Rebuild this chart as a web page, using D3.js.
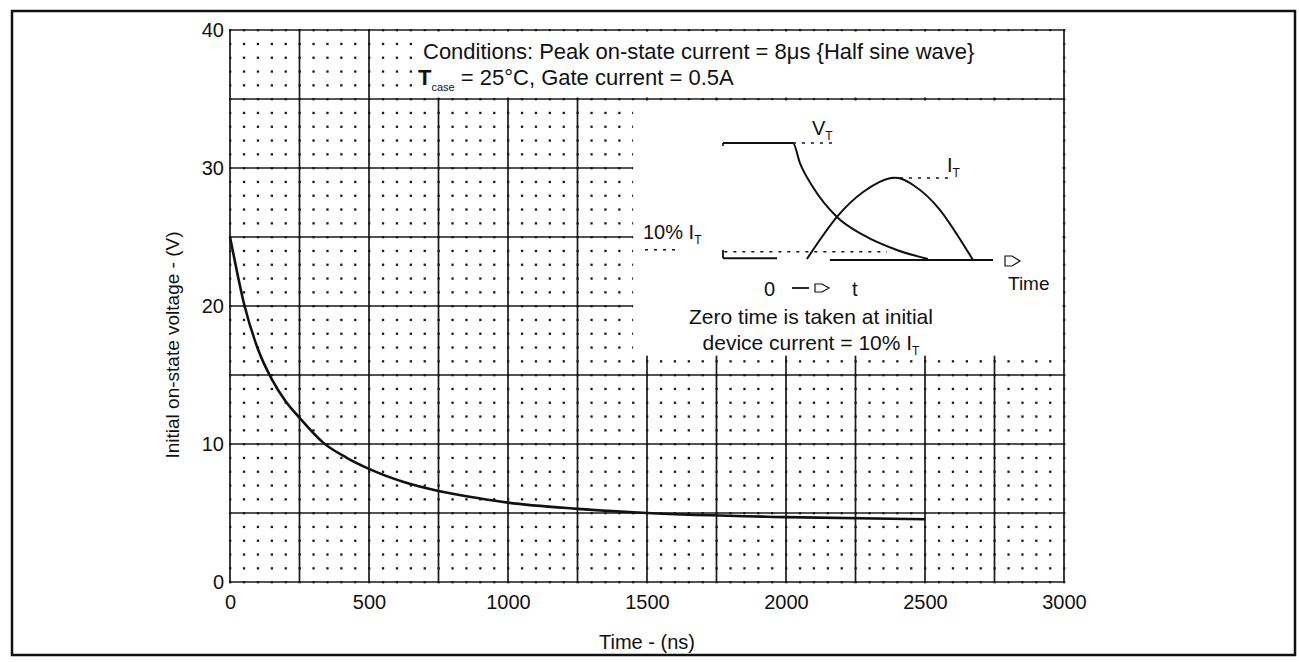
<!DOCTYPE html>
<html>
<head>
<meta charset="utf-8">
<script src="https://cdnjs.cloudflare.com/ajax/libs/d3/7.8.5/d3.min.js"></script>
<style>
body { margin: 0; background: #fff; }
text { font-family: "Liberation Sans", Arial, sans-serif; fill: #111; }
</style>
</head>
<body>
<div class="chart"></div>
<script>
/////////////
//Data
/////////////

// main curve
var timeNs  = [0, 25, 50, 100, 150, 200, 250, 335, 420, 500, 625, 750, 900, 1000, 1250, 1500, 2000, 2500];
var voltage = [25, 22.5, 20.2, 16.9, 14.7, 13.1, 11.9, 10.1, 9.0, 8.2, 7.25, 6.6, 6.05, 5.75, 5.3, 5.0, 4.7, 4.55];

var xTicks = [0, 500, 1000, 1500, 2000, 2500, 3000];
var yTicks = [0, 10, 20, 30, 40];

// inset sketch (arbitrary units: time 0-100, level 0-100)
var vtTime  = [0, 25.9, 28.5, 33.3, 42.2, 51.9, 64.4, 75.9];
var vtLevel = [100, 100, 82.9, 62.4, 36.8, 21.4, 8.5, 0.9];
var itTime  = [31.1, 42.2, 51.9, 62.2, 70.4, 80.4, 92.6];
var itLevel = [0.9, 36.8, 58.1, 70.1, 64.1, 42.7, 0];
var tenPct = 7;

////////////////
//Setup
////////////////
var w = 1299, h = 662;

var svg = d3.select('div.chart')
  .append('svg')
  .attr('width', w)
  .attr('height', h);

// outer frame
svg.append('rect')
  .attr('x', 12).attr('y', 11)
  .attr('width', 1283).attr('height', 644)
  .attr('fill', 'none')
  .attr('stroke', '#111')
  .attr('stroke-width', 2.5);

var x = d3.scaleLinear().domain([0, 3000]).range([230, 1064]);
var y = d3.scaleLinear().domain([0, 40]).range([582, 30]);

////////////////
//Grid
////////////////
var grid = svg.append('g');

// minor grid as dots at every 50ns / 1V crossing
var dots = [];
d3.range(0, 3001, 50).forEach(function(t) {
  d3.range(0, 41, 1).forEach(function(v) { dots.push([t, v]); });
});
grid.selectAll('rect.dot')
  .data(dots)
  .enter()
  .append('rect')
  .attr('class', 'dot')
  .attr('x', d => x(d[0]) - 1)
  .attr('y', d => y(d[1]) - 1)
  .attr('width', 2.3)
  .attr('height', 2.3)
  .attr('fill', '#1a1a1a');

// major grid every 250ns / 5V
grid.selectAll('line.vmaj')
  .data(d3.range(0, 3001, 250))
  .enter()
  .append('line')
  .attr('class', 'vmaj')
  .attr('x1', d => x(d)).attr('x2', d => x(d))
  .attr('y1', y(0)).attr('y2', y(40))
  .attr('stroke', '#1a1a1a')
  .attr('stroke-width', 1.7);

grid.selectAll('line.hmaj')
  .data(d3.range(0, 41, 5))
  .enter()
  .append('line')
  .attr('class', 'hmaj')
  .attr('x1', x(0)).attr('x2', x(3000))
  .attr('y1', d => y(d)).attr('y2', d => y(d))
  .attr('stroke', '#1a1a1a')
  .attr('stroke-width', 1.7);

// blank areas behind the notes and the inset
svg.append('rect')
  .attr('x', x(660)).attr('y', y(40) + 1.5)
  .attr('width', x(3000) - x(660) - 1.5)
  .attr('height', y(35) - y(40) - 3)
  .attr('fill', '#fff');

svg.append('rect')
  .attr('x', x(1450)).attr('y', y(35) + 1.5)
  .attr('width', x(3000) - x(1450) - 1.5)
  .attr('height', y(16.4) - y(35) - 1.5)
  .attr('fill', '#fff');

////////////////
//Axes (labels only)
////////////////
var xAxis = svg.append('g')
  .attr('transform', 'translate(0,' + (y(0) + 9) + ')')
  .call(d3.axisBottom(x).tickValues(xTicks).tickFormat(d3.format('d')).tickSize(0).tickPadding(4));
xAxis.select('.domain').remove();
xAxis.selectAll('text').attr('font-size', 20).style('font-family', '"Liberation Sans", Arial, sans-serif');

var yAxis = svg.append('g')
  .attr('transform', 'translate(' + (x(0) - 6) + ',0)')
  .call(d3.axisLeft(y).tickValues(yTicks).tickFormat(d3.format('d')).tickSize(0).tickPadding(0));
yAxis.select('.domain').remove();
yAxis.selectAll('text').attr('font-size', 20).style('font-family', '"Liberation Sans", Arial, sans-serif');

svg.append('text')
  .attr('x', x(1500)).attr('y', 649)
  .attr('text-anchor', 'middle')
  .attr('font-size', 20)
  .text('Time - (ns)');

svg.append('text')
  .attr('transform', 'translate(179,345) rotate(-90)')
  .attr('text-anchor', 'middle')
  .attr('font-size', 19)
  .text('Initial on-state voltage - (V)');

////////////////
//Curve
////////////////
var line = d3.line()
  .x(d => x(d[0]))
  .y(d => y(d[1]))
  .curve(d3.curveMonotoneX);

svg.append('path')
  .datum(d3.zip(timeNs, voltage))
  .attr('d', line)
  .attr('fill', 'none')
  .attr('stroke', '#111')
  .attr('stroke-width', 2.6);

////////////////
//Conditions note
////////////////
svg.append('text')
  .attr('x', 423).attr('y', 59)
  .attr('font-size', 22)
  .text('Conditions: Peak on-state current = 8\u03bcs {Half sine wave}');

var c2 = svg.append('text')
  .attr('x', 418).attr('y', 85)
  .attr('font-size', 22);
c2.append('tspan').attr('font-weight', 'bold').text('T');
c2.append('tspan').attr('font-size', 11).attr('dy', 6).text('case');
c2.append('tspan').attr('dy', -6).text(' = 25\u00b0C, Gate current = 0.5A');

////////////////
//Inset sketch
////////////////
var ix = d3.scaleLinear().domain([0, 100]).range([723, 993]);
var iy = d3.scaleLinear().domain([0, 100]).range([260, 143]);

var inset = svg.append('g');

var iline = d3.line()
  .x(d => ix(d[0]))
  .y(d => iy(d[1]))
  .curve(d3.curveMonotoneX);

inset.append('path')
  .datum(d3.zip(vtTime, vtLevel))
  .attr('d', iline)
  .attr('fill', 'none')
  .attr('stroke', '#111')
  .attr('stroke-width', 2);

inset.append('path')
  .datum(d3.zip(itTime, itLevel))
  .attr('d', d3.line().x(d => ix(d[0])).y(d => iy(d[1])).curve(d3.curveCardinal))
  .attr('fill', 'none')
  .attr('stroke', '#111')
  .attr('stroke-width', 2);

function dotted(x1, y1, x2, y2) {
  inset.append('line')
    .attr('x1', x1).attr('y1', y1).attr('x2', x2).attr('y2', y2)
    .attr('stroke', '#111')
    .attr('stroke-width', 1.6)
    .attr('stroke-dasharray', '3,6');
}
function solid(x1, y1, x2, y2) {
  inset.append('line')
    .attr('x1', x1).attr('y1', y1).attr('x2', x2).attr('y2', y2)
    .attr('stroke', '#111')
    .attr('stroke-width', 1.8);
}

// guide lines to the peak labels
dotted(ix(25.9), iy(100), ix(41.1), iy(100));
dotted(ix(0), iy(100), ix(0), iy(93));
dotted(ix(62.2), iy(70.1), ix(85.2), iy(70.1));
// 10% level
dotted(645, iy(tenPct) - 2, 680, iy(tenPct) - 2);
dotted(ix(0.5), iy(tenPct), ix(60.7), iy(tenPct));
solid(ix(0), iy(tenPct + 1.5), ix(0), iy(1.5));
solid(ix(0), iy(1.5), ix(20), iy(1.5));
// time axis with hollow arrow
solid(ix(39.6), iy(0), ix(100), iy(0));
inset.append('path')
  .attr('d', 'M1005,256 h7 l8,5 l-8,5 h-7 z')
  .attr('fill', 'none').attr('stroke', '#111').attr('stroke-width', 1.2);

function label(tx, ty, main, sub, size) {
  var t = inset.append('text').attr('x', tx).attr('y', ty).attr('font-size', size);
  t.append('tspan').text(main);
  if (sub) t.append('tspan').attr('font-size', size * 0.6).attr('dy', 5).text(sub);
  return t;
}
label(812, 135, 'V', 'T', 20);
label(947, 172, 'I', 'T', 20);
label(643, 239, '10% I', 'T', 20);
label(1008, 290, 'Time', null, 19);

// 0 --> t
label(764, 296, '0', null, 20);
solid(792, 288, 809, 288);
inset.append('path')
  .attr('d', 'M815,284 h7 l7,4 l-7,4 h-7 z')
  .attr('fill', 'none').attr('stroke', '#111').attr('stroke-width', 1.2);
label(852, 296, 't', null, 20);

inset.append('text')
  .attr('x', 811).attr('y', 324)
  .attr('text-anchor', 'middle')
  .attr('font-size', 21)
  .text('Zero time is taken at initial');

var d2 = inset.append('text')
  .attr('x', 811).attr('y', 350)
  .attr('text-anchor', 'middle')
  .attr('font-size', 21);
d2.append('tspan').text('device current = 10% I');
d2.append('tspan').attr('font-size', 12).attr('dy', 5).text('T');
</script>
</body>
</html>
